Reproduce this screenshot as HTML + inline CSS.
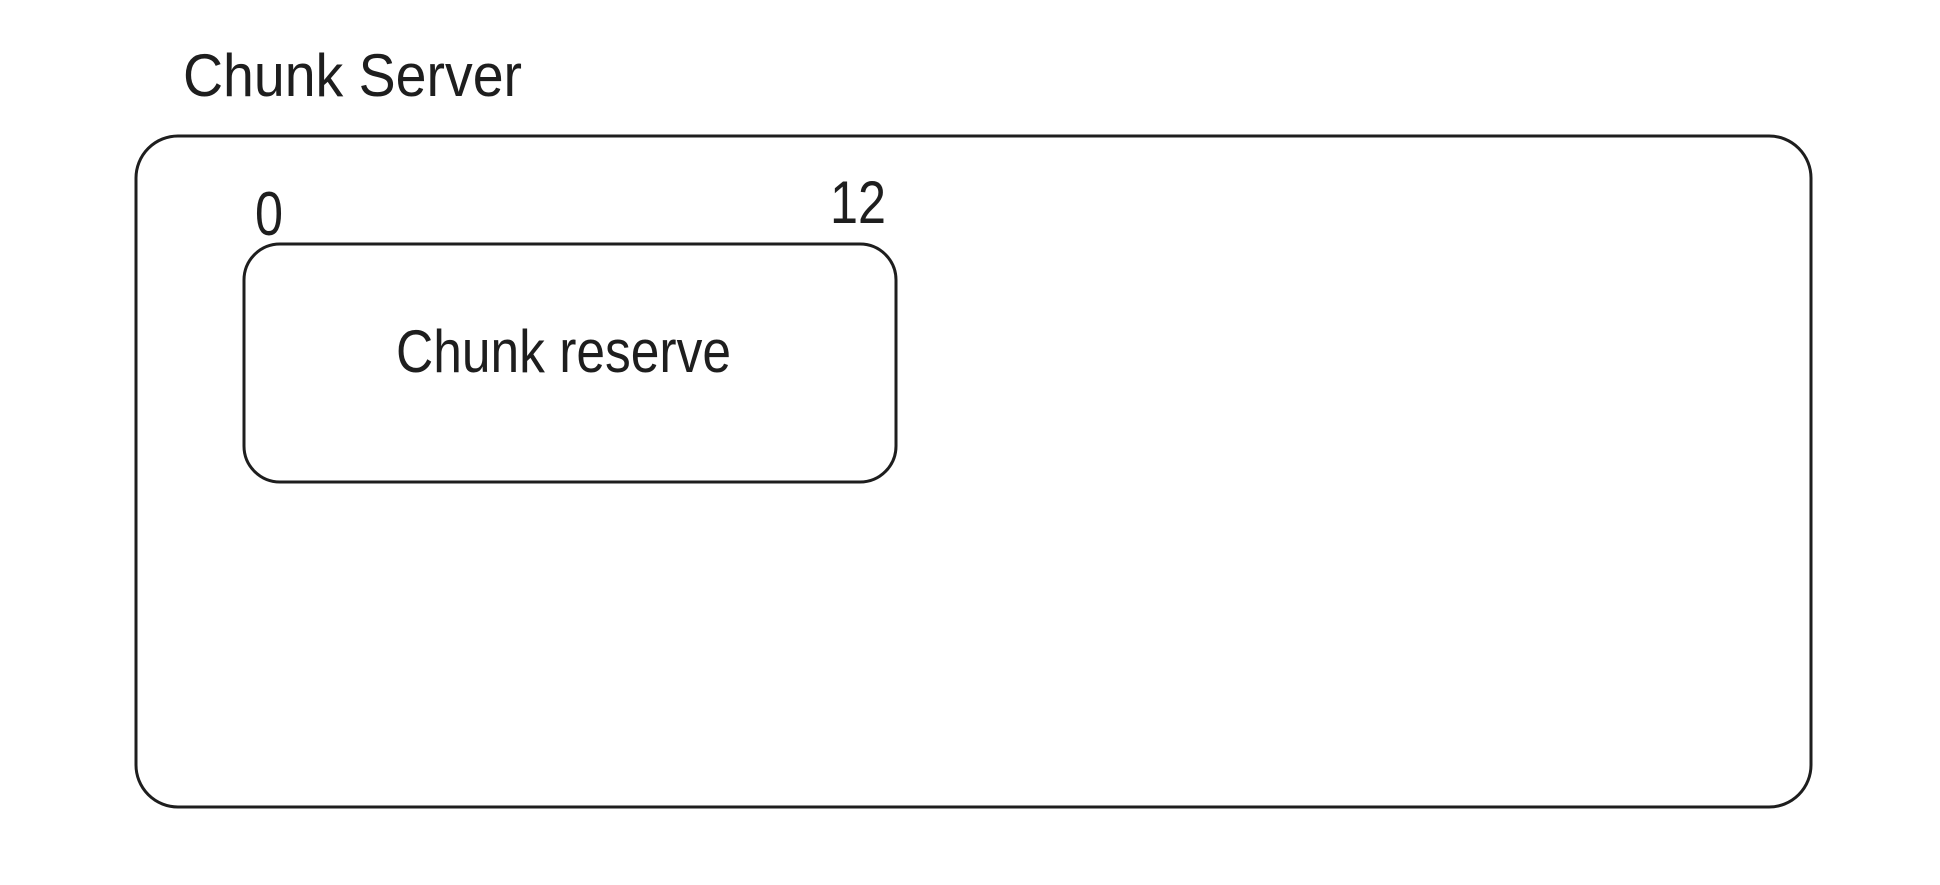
<!DOCTYPE html>
<html><head><meta charset="utf-8"><style>html,body{margin:0;padding:0;background:#fff}</style></head>
<body>
<svg width="1940" height="880" xmlns="http://www.w3.org/2000/svg">
<rect x="136" y="136" width="1675" height="671" rx="42" fill="none" stroke="#1e1e1e" stroke-width="3"/>
<rect x="244" y="244" width="652" height="238" rx="36" fill="none" stroke="#1e1e1e" stroke-width="3"/>
<g font-family="'Comic Sans MS','Liberation Sans',sans-serif" fill="#1e1e1e">
<text x="183" y="96" font-size="60" textLength="339" lengthAdjust="spacingAndGlyphs">Chunk Server</text>
<text x="396" y="372" font-size="60" textLength="335" lengthAdjust="spacingAndGlyphs">Chunk reserve</text>
<text x="255" y="235" font-size="62" textLength="28" lengthAdjust="spacingAndGlyphs">0</text>
<text x="830" y="223" font-size="60" textLength="56" lengthAdjust="spacingAndGlyphs">12</text>
</g>
</svg>
</body></html>
